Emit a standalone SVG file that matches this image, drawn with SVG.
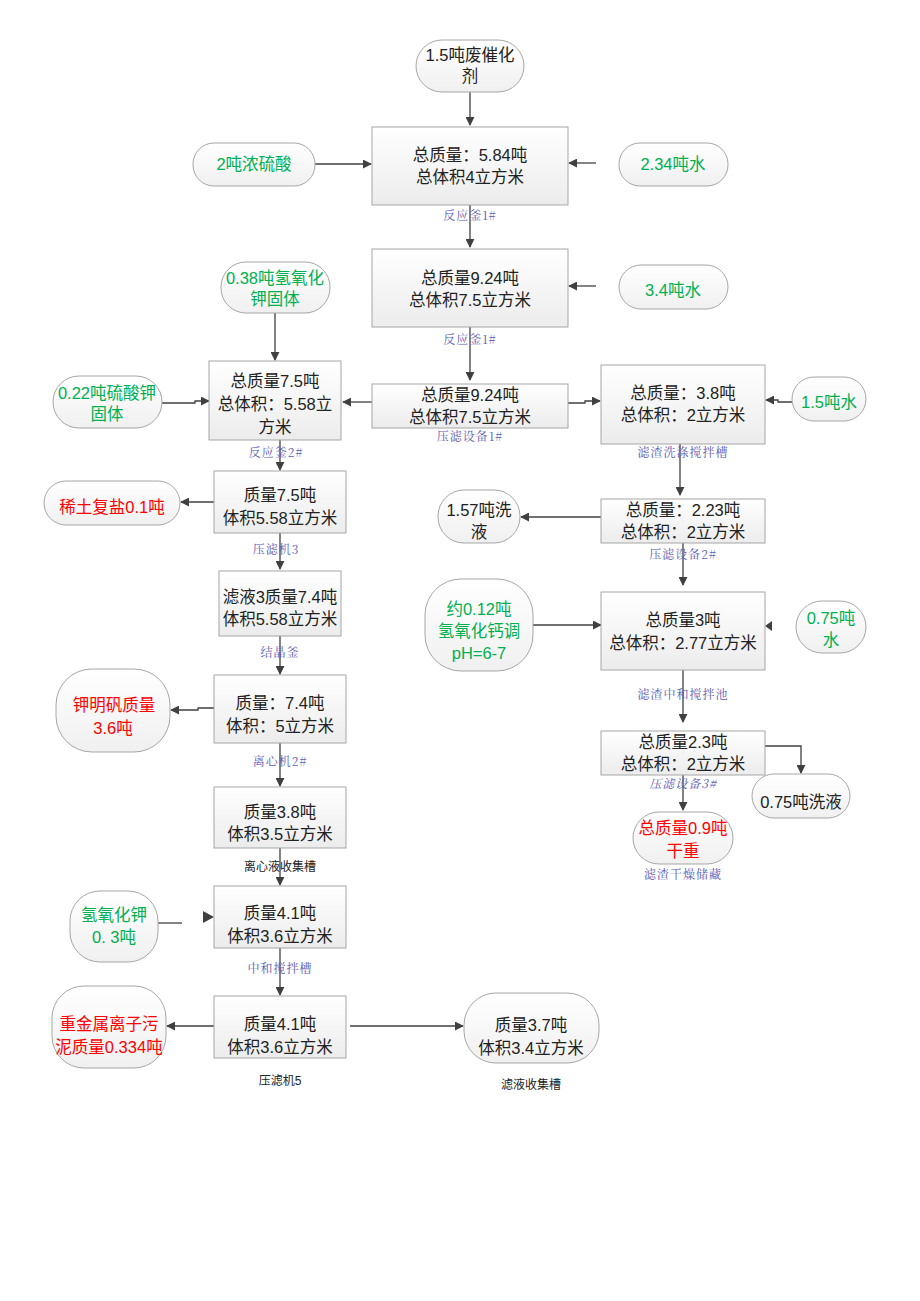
<svg xmlns="http://www.w3.org/2000/svg" width="920" height="1301" viewBox="0 0 920 1301">
<defs>
<linearGradient id="gb" x1="0" y1="0" x2="0" y2="1"><stop offset="0" stop-color="#ffffff"/><stop offset="1" stop-color="#ececec"/></linearGradient>
<linearGradient id="gp" x1="0" y1="0" x2="0" y2="1"><stop offset="0" stop-color="#ffffff"/><stop offset="1" stop-color="#f0f0f0"/></linearGradient>
<marker id="ah" viewBox="0 0 10 10" refX="9" refY="5" markerWidth="9" markerHeight="9" markerUnits="userSpaceOnUse" orient="auto"><path d="M0,0 L10,5 L0,10 Z" fill="#404040"/></marker>
<style>
.box{fill:url(#gb);stroke:#a6a6a6;stroke-width:1}
.pill{fill:url(#gp);stroke:#a6a6a6;stroke-width:1}
text{font-family:"Liberation Sans","Noto Sans CJK SC",sans-serif;text-anchor:middle}
.t{font-size:16.5px;fill:#222}
.g{font-size:16.5px;fill:#00b050}
.r{font-size:16.5px;fill:#ff0000}
.lb{font-size:12px;fill:#5a5ab4;font-family:"Noto Serif CJK SC","Noto Sans CJK SC",serif;letter-spacing:1px}
.lk{font-size:12px;fill:#222}
.c{fill:none;stroke:#404040;stroke-width:1.3;marker-end:url(#ah)}
.cn{fill:none;stroke:#404040;stroke-width:1.3}
</style>
</defs>
<rect width="920" height="1301" fill="#fff"/>

<g id="connectors">
<path class="c" d="M470,92 V125"/>
<path class="c" d="M315,164 H371"/>
<path class="c" d="M596,163 H569"/>
<path class="c" d="M470,205 V247"/>
<path class="c" d="M596,286 H569"/>
<path class="c" d="M470,327 V380"/>
<path class="c" d="M372,402 H343"/>
<path class="c" d="M568,403 H585 V401 H600"/>
<path class="c" d="M792,402 H778 V400 H766"/>
<path class="c" d="M275,313 V360"/>
<path class="c" d="M162,403 H195 V401 H209"/>
<path class="c" d="M280,440 V470"/>
<path class="c" d="M214,502 H181"/>
<path class="c" d="M280,533 V569"/>
<path class="c" d="M280,636 V674"/>
<path class="c" d="M214,708 H198 V710 H171"/>
<path class="c" d="M280,743 V786"/>
<path class="c" d="M280,848 V885"/>
<path class="cn" d="M158,923 H182"/>
<path d="M203,911 L214,917 L203,923 Z" fill="#404040"/>
<path class="c" d="M280,948 V995"/>
<path class="c" d="M214,1026 H167"/>
<path class="c" d="M350,1026 H463"/>
<path class="c" d="M680,444 V495"/>
<path class="c" d="M601,517 H521"/>
<path class="c" d="M683,543 V585"/>
<path class="c" d="M533,625 H601"/>
<path d="M772,621 L765,626 L772,631 Z" fill="#404040"/>
<path class="c" d="M683,670 V722"/>
<path class="c" d="M765,746 H801 V773"/>
<path class="c" d="M683,775 V810"/>
</g>

<g id="n_catalyst"><rect class="pill" x="416" y="40" width="108" height="52" rx="26"/><text class="t" x="470" y="61">1.5吨废催化</text><text class="t" x="470" y="82">剂</text></g>
<g id="n_r1a"><rect class="box" x="372" y="127" width="196" height="78"/><text class="t" x="470" y="161">总质量：5.84吨</text><text class="t" x="470" y="183">总体积4立方米</text><text class="lb" x="470" y="220">反应釜1#</text></g>
<g id="n_acid"><rect class="pill" x="193" y="143" width="122" height="43" rx="21"/><text class="g" x="254" y="170">2吨浓硫酸</text></g>
<g id="n_w1"><rect class="pill" x="619" y="143" width="109" height="43" rx="21"/><text class="g" x="673" y="170">2.34吨水</text></g>
<g id="n_r1b"><rect class="box" x="372" y="249" width="196" height="78"/><text class="t" x="470" y="284">总质量9.24吨</text><text class="t" x="470" y="306">总体积7.5立方米</text><text class="lb" x="470" y="344">反应釜1#</text></g>
<g id="n_w2"><rect class="pill" x="619" y="265" width="109" height="44" rx="22"/><text class="g" x="673" y="296">3.4吨水</text></g>
<g id="n_pf1"><rect class="box" x="372" y="384" width="196" height="44"/><text class="t" x="470" y="401">总质量9.24吨</text><text class="t" x="470" y="423">总体积7.5立方米</text><text class="lb" x="470" y="441">压滤设备1#</text></g>
<g id="n_wash"><rect class="box" x="601" y="365" width="164" height="79"/><text class="t" x="683" y="399">总质量：3.8吨</text><text class="t" x="683" y="421">总体积：2立方米</text><text class="lb" x="683" y="457">滤渣洗涤搅拌槽</text></g>
<g id="n_w3"><rect class="pill" x="792" y="377" width="74" height="44" rx="22"/><text class="g" x="829" y="408">1.5吨水</text></g>
<g id="n_koh1"><rect class="pill" x="221" y="262" width="109" height="51" rx="25"/><text class="g" x="275" y="284">0.38吨氢氧化</text><text class="g" x="275" y="305">钾固体</text></g>
<g id="n_k2so4"><rect class="pill" x="53" y="376" width="109" height="52" rx="26"/><text class="g" x="107" y="399">0.22吨硫酸钾</text><text class="g" x="107" y="420">固体</text></g>
<g id="n_r2"><rect class="box" x="209" y="361" width="132" height="79"/><text class="t" x="275" y="387">总质量7.5吨</text><text class="t" x="275" y="410">总体积：5.58立</text><text class="t" x="275" y="433">方米</text><text class="lb" x="276" y="457">反应釜2#</text></g>
<g id="n_pf3"><rect class="box" x="214" y="471" width="132" height="62"/><text class="t" x="280" y="501">质量7.5吨</text><text class="t" x="280" y="524">体积5.58立方米</text><text class="lb" x="276" y="554">压滤机3</text></g>
<g id="n_re"><rect class="pill" x="44" y="481" width="136" height="44" rx="22"/><text class="r" x="112" y="513">稀土复盐0.1吨</text></g>
<g id="n_filt3"><rect class="box" x="219" y="571" width="122" height="65"/><text class="t" x="280" y="603">滤液3质量7.4吨</text><text class="t" x="280" y="625">体积5.58立方米</text><text class="lb" x="280" y="657">结晶釜</text></g>
<g id="n_cryst"><rect class="box" x="214" y="675" width="132" height="68"/><text class="t" x="280" y="709">质量：7.4吨</text><text class="t" x="280" y="732">体积：5立方米</text><text class="lb" x="280" y="766">离心机2#</text></g>
<g id="n_alum"><rect class="pill" x="56" y="669" width="114" height="83" rx="36"/><text class="r" x="114" y="711">钾明矾质量</text><text class="r" x="113" y="734">3.6吨</text></g>
<g id="n_cent"><rect class="box" x="214" y="787" width="132" height="61"/><text class="t" x="280" y="818">质量3.8吨</text><text class="t" x="280" y="840">体积3.5立方米</text><text class="lk" x="280" y="871">离心液收集槽</text></g>
<g id="n_neut"><rect class="box" x="214" y="886" width="132" height="62"/><text class="t" x="280" y="919">质量4.1吨</text><text class="t" x="280" y="942">体积3.6立方米</text><text class="lb" x="280" y="973">中和搅拌槽</text></g>
<g id="n_koh2"><rect class="pill" x="70" y="891" width="88" height="71" rx="30"/><text class="g" x="114" y="921">氢氧化钾</text><text class="g" x="114" y="943">0. 3吨</text></g>
<g id="n_pf5"><rect class="box" x="214" y="996" width="132" height="62"/><text class="t" x="280" y="1030">质量4.1吨</text><text class="t" x="280" y="1053">体积3.6立方米</text><text class="lk" x="280" y="1085">压滤机5</text></g>
<g id="n_sludge"><rect class="pill" x="52" y="986" width="114" height="82" rx="32"/><text class="r" x="109" y="1030">重金属离子污</text><text class="r" x="109" y="1053">泥质量0.334吨</text></g>
<g id="n_filtrate"><rect class="pill" x="464" y="993" width="135" height="70" rx="32"/><text class="t" x="531" y="1031">质量3.7吨</text><text class="t" x="531" y="1054">体积3.4立方米</text><text class="lk" x="531" y="1089">滤液收集槽</text></g>
<g id="n_pf2"><rect class="box" x="601" y="499" width="164" height="44"/><text class="t" x="683" y="516">总质量：2.23吨</text><text class="t" x="683" y="538">总体积：2立方米</text><text class="lb" x="683" y="559">压滤设备2#</text></g>
<g id="n_wash1"><rect class="pill" x="438" y="490" width="82" height="53" rx="26"/><text class="t" x="479" y="516">1.57吨洗</text><text class="t" x="479" y="538">液</text></g>
<g id="n_nt"><rect class="box" x="601" y="592" width="164" height="78"/><text class="t" x="683" y="626">总质量3吨</text><text class="t" x="683" y="649">总体积：2.77立方米</text><text class="lb" x="683" y="699">滤渣中和搅拌池</text></g>
<g id="n_caoh"><rect class="pill" x="425" y="579" width="108" height="92" rx="36"/><text class="g" x="479" y="615">约0.12吨</text><text class="g" x="479" y="637">氢氧化钙调</text><text class="g" x="479" y="659">pH=6-7</text></g>
<g id="n_w4"><rect class="pill" x="796" y="601" width="70" height="52" rx="26"/><text class="g" x="831" y="624">0.75吨</text><text class="g" x="831" y="646">水</text></g>
<g id="n_pf3r"><rect class="box" x="601" y="731" width="164" height="44"/><text class="t" x="683" y="748">总质量2.3吨</text><text class="t" x="683" y="770">总体积：2立方米</text><text class="lb" x="683" y="788" font-style="italic">压滤设备3#</text></g>
<g id="n_wash2"><rect class="pill" x="752" y="774" width="98" height="44" rx="22"/><text class="t" x="801" y="808">0.75吨洗液</text></g>
<g id="n_dry"><rect class="pill" x="633" y="812" width="100" height="52" rx="26"/><text class="r" x="683" y="834">总质量0.9吨</text><text class="r" x="683" y="857">干重</text><text class="lb" x="683" y="879">滤渣干燥储藏</text></g>
</svg>
